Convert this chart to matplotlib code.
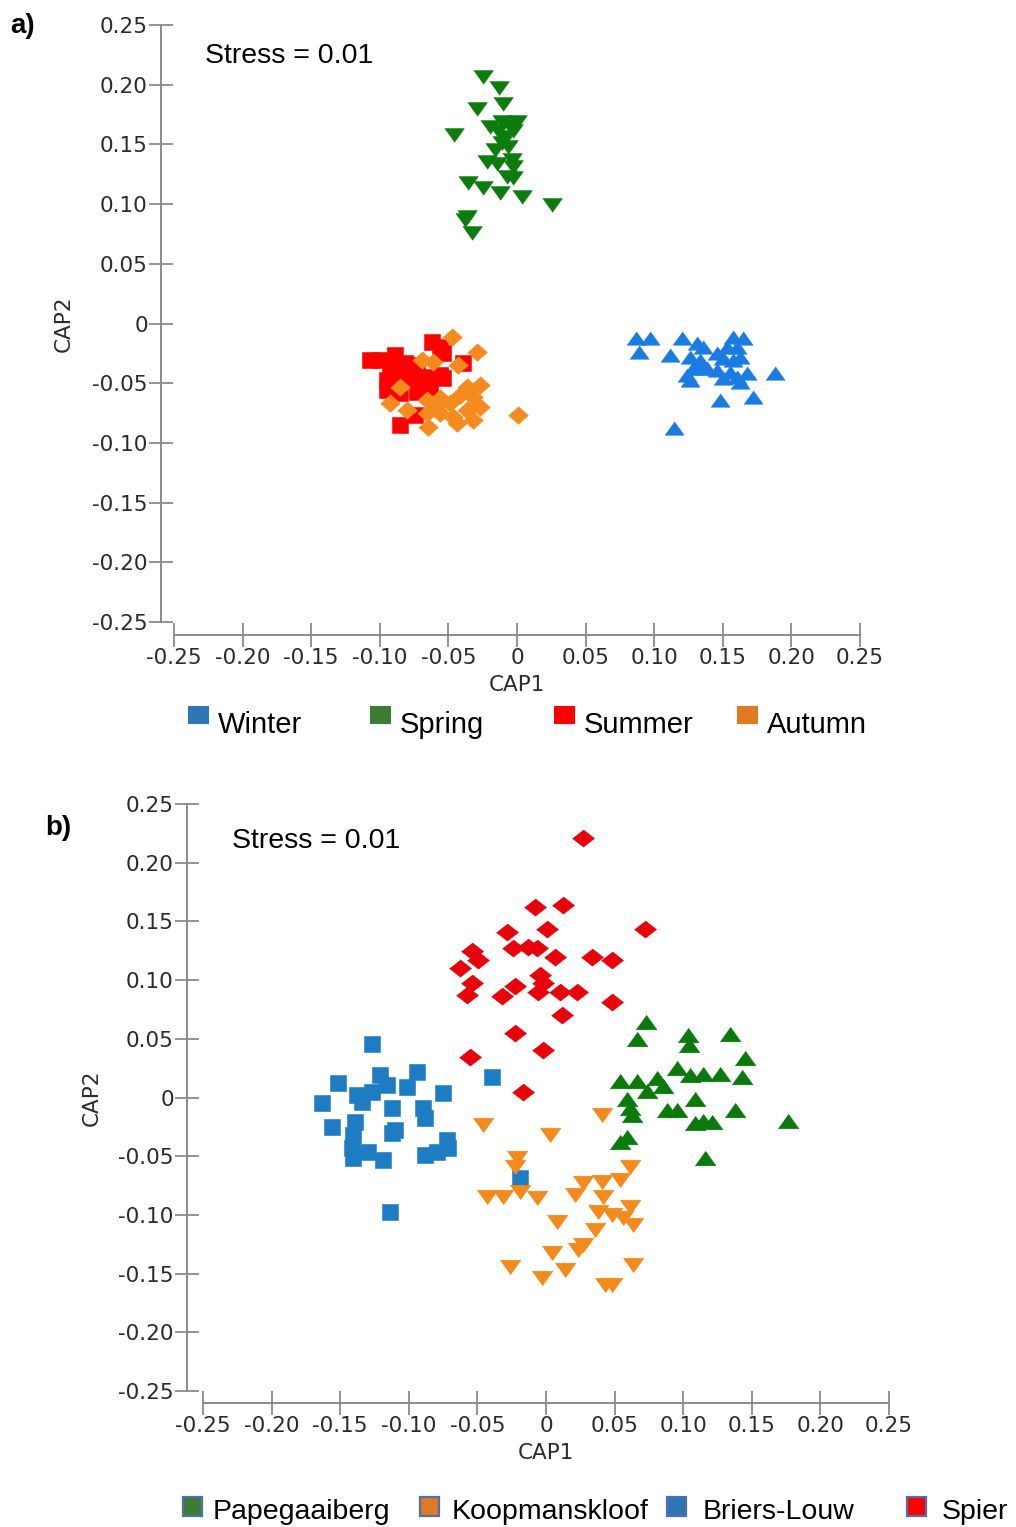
import matplotlib
matplotlib.use("Agg")
import matplotlib.pyplot as plt
from matplotlib.patches import Rectangle
from matplotlib.ticker import FixedLocator, FixedFormatter

plt.rcParams["axes.unicode_minus"] = False

# ---------------- data: panel a (seasons) ----------------
season_names = ["Winter", "Spring", "Summer", "Autumn"]

winter_x = [0.0868, 0.0970, 0.0892, 0.1201, 0.1115, 0.1310, 0.1358, 0.1261, 0.1334,
            0.1577, 0.1650, 0.1529, 0.1602, 0.1456, 0.1504, 0.1577, 0.1626, 0.1383,
            0.1456, 0.1285, 0.1334, 0.1237, 0.1261, 0.1504, 0.1602, 0.1675, 0.1553,
            0.1626, 0.1881, 0.1480, 0.1723, 0.1145]
winter_y = [-0.0124, -0.0124, -0.0236, -0.0124, -0.0264, -0.0166, -0.0194, -0.0278, -0.0306,
            -0.0111, -0.0124, -0.0194, -0.0194, -0.0250, -0.0291, -0.0306, -0.0278, -0.0375,
            -0.0389, -0.0375, -0.0375, -0.0431, -0.0473, -0.0459, -0.0446, -0.0417, -0.0404,
            -0.0487, -0.0417, -0.0641, -0.0618, -0.0878]

spring_x = [-0.0246, -0.0129, -0.0294, -0.0100, -0.0457, -0.0112, -0.0002, -0.0051, -0.0136,
            -0.0087, -0.0027, -0.0112, -0.0063, -0.0221, -0.0148, -0.0039, -0.0027, -0.0027,
            -0.0075, -0.0355, -0.0246, -0.0124, 0.0034, 0.0253, -0.0367, -0.0330, -0.0379,
            -0.0160, -0.0197]
spring_y = [0.2067, 0.1970, 0.1800, 0.1840, 0.1580, 0.1690, 0.1690, 0.1650, 0.1610,
            0.1560, 0.1610, 0.1510, 0.1480, 0.1355, 0.1340, 0.1370, 0.1310, 0.1216,
            0.1230, 0.1174, 0.1132, 0.1090, 0.1060, 0.0992, 0.0894, 0.0755, 0.0867,
            0.1450, 0.1645]

summer_x = [-0.1072, -0.0991, -0.0622, -0.0561, -0.0537, -0.0926, -0.0816, -0.0731, -0.0950,
            -0.0865, -0.0768, -0.0658, -0.0561, -0.0391, -0.0950, -0.0853, -0.0731, -0.0634,
            -0.0744, -0.0853, -0.0537, -0.0889]
summer_y = [-0.0306, -0.0306, -0.0152, -0.0194, -0.0250, -0.0362, -0.0333, -0.0348, -0.0473,
            -0.0459, -0.0446, -0.0446, -0.0431, -0.0333, -0.0557, -0.0585, -0.0571, -0.0543,
            -0.0766, -0.0850, -0.0459, -0.0264]

autumn_x = [-0.0476, -0.0294, -0.0695, -0.0610, -0.0428, -0.0853, -0.0926, -0.0804, -0.0658,
            -0.0561, -0.0488, -0.0367, -0.0270, -0.0416, -0.0319, -0.0658, -0.0561, -0.0464,
            -0.0367, -0.0270, -0.0319, -0.0647, 0.0009, -0.0440, -0.0590]
autumn_y = [-0.0111, -0.0236, -0.0306, -0.0320, -0.0348, -0.0529, -0.0668, -0.0724, -0.0641,
            -0.0626, -0.0668, -0.0529, -0.0515, -0.0599, -0.0613, -0.0752, -0.0752, -0.0781,
            -0.0724, -0.0697, -0.0808, -0.0864, -0.0766, -0.0836, -0.0683]

# ---------------- data: panel b (sites) ----------------
site_names = ["Papegaaiberg", "Koopmanskloof", "Briers-Louw", "Spier"]

papeg_x = [0.0729, 0.0661, 0.1037, 0.1045, 0.1341, 0.1451, 0.0957, 0.1050, 0.1142, 0.1268,
           0.1427, 0.0539, 0.0661, 0.0807, 0.0855, 0.0734, 0.0588, 0.0612, 0.0625, 0.1086,
           0.0884, 0.0953, 0.1378, 0.1086, 0.1147, 0.1208, 0.1766, 0.0539, 0.0588, 0.1159]
papeg_y = [0.0646, 0.0496, 0.0533, 0.0447, 0.0541, 0.0334, 0.0249, 0.0192, 0.0200, 0.0200,
           0.0177, 0.0143, 0.0143, 0.0164, 0.0098, 0.0058, -0.0015, -0.0092, -0.0149, -0.0015,
           -0.0107, -0.0107, -0.0107, -0.0215, -0.0198, -0.0206, -0.0198, -0.0377, -0.0339, -0.0518]

koop_x = [-0.0457, 0.0029, 0.0406, -0.0214, -0.0226, -0.0432, -0.0311, -0.0190, -0.0068, 0.0211,
          0.0272, 0.0406, 0.0539, 0.0612, 0.0418, 0.0381, 0.0479, 0.0564, 0.0612, 0.0636,
          0.0078, 0.0357, 0.0272, 0.0235, 0.0042, 0.0139, -0.0262, -0.0031, 0.0479, 0.0636, 0.0430]
koop_y = [-0.0234, -0.0320, -0.0149, -0.0518, -0.0590, -0.0845, -0.0845, -0.0803, -0.0859, -0.0831,
          -0.0731, -0.0717, -0.0703, -0.0590, -0.0845, -0.0973, -0.1001, -0.1029, -0.0930, -0.1086,
          -0.1058, -0.1129, -0.1257, -0.1299, -0.1327, -0.1470, -0.1442, -0.1540, -0.1597, -0.1427, -0.1597]

briers_x = [-0.1271, -0.0396, -0.1514, -0.1210, -0.1161, -0.1271, -0.1380, -0.1344, -0.0943, -0.1016,
            -0.0749, -0.1635, -0.1125, -0.0894, -0.0882, -0.1562, -0.1392, -0.1405, -0.1101, -0.1125,
            -0.1416, -0.1405, -0.1295, -0.1186, -0.0882, -0.0797, -0.0724, -0.0712, -0.0190, -0.1137]
briers_y = [0.0456, 0.0177, 0.0121, 0.0192, 0.0107, 0.0049, 0.0021, -0.0036, 0.0220, 0.0092,
            0.0041, -0.0049, -0.0092, -0.0092, -0.0177, -0.0249, -0.0206, -0.0320, -0.0277, -0.0305,
            -0.0433, -0.0518, -0.0462, -0.0533, -0.0490, -0.0462, -0.0362, -0.0433, -0.0688, -0.0973]

spier_x = [0.0272, -0.0080, 0.0126, 0.0722, -0.0287, 0.0005, -0.0542, -0.0494, -0.0627, -0.0238,
           -0.0129, -0.0068, 0.0066, 0.0333, 0.0479, -0.0044, -0.0020, -0.0542, -0.0578, -0.0226,
           -0.0323, -0.0056, 0.0102, 0.0224, 0.0479, 0.0114, -0.0226, -0.0020, -0.0554, -0.0165]
spier_y = [0.2208, 0.1626, 0.1640, 0.1433, 0.1413, 0.1433, 0.1251, 0.1172, 0.1101, 0.1271,
           0.1285, 0.1271, 0.1200, 0.1200, 0.1172, 0.1044, 0.0973, 0.0973, 0.0873, 0.0950,
           0.0865, 0.0901, 0.0901, 0.0901, 0.0816, 0.0703, 0.0547, 0.0405, 0.0348, 0.0049]

# ---------------- axis ticks ----------------
tick_values = [-0.25, -0.20, -0.15, -0.10, -0.05, 0.0, 0.05, 0.10, 0.15, 0.20, 0.25]
tick_labels = ["-0.25", "-0.20", "-0.15", "-0.10", "-0.05", "0",
               "0.05", "0.10", "0.15", "0.20", "0.25"]

# ---------------- styling ----------------
W, H = 1016, 1527
TEXT_FONT = ["Liberation Sans", "DejaVu Sans"]
TICK_FONT = ["DejaVu Sans"]
SPINE_COLOR = "#8a8a8a"
TICK_TEXT = "#2b2b2b"

tri_up = [(-1, -0.7), (1, -0.7), (0, 0.7)]
tri_down = [(-1, 0.7), (1, 0.7), (0, -0.7)]
diamond_a = [(0, 0.9), (1, 0), (0, -0.9), (-1, 0)]
diamond_b = [(0, 0.78), (1, 0), (0, -0.78), (-1, 0)]

fig = plt.figure(figsize=(W / 100, H / 100), dpi=100)


def px_rect(x0, y0, x1, y1):
    return [x0 / W, 1 - y1 / H, (x1 - x0) / W, (y1 - y0) / H]


def style_axes(ax, left_off_pt, bottom_off_pt, ylabel_pad):
    ax.set_xlim(-0.25, 0.25)
    ax.set_ylim(-0.25, 0.25)
    ax.patch.set_visible(False)
    for side in ("top", "right"):
        ax.spines[side].set_visible(False)
    ax.spines["left"].set_position(("outward", left_off_pt))
    ax.spines["bottom"].set_position(("outward", bottom_off_pt))
    for side in ("left", "bottom"):
        ax.spines[side].set_bounds(-0.25, 0.25)
        ax.spines[side].set_color(SPINE_COLOR)
        ax.spines[side].set_linewidth(1.4)
    for axis in (ax.xaxis, ax.yaxis):
        axis.set_major_locator(FixedLocator(tick_values))
        axis.set_major_formatter(FixedFormatter(tick_labels))
    ax.tick_params(direction="inout", length=17, width=1.3, color=SPINE_COLOR,
                   labelcolor=TICK_TEXT, labelsize=15.5, pad=1)
    for lab in ax.get_xticklabels() + ax.get_yticklabels():
        lab.set_family(TICK_FONT)
    ax.set_xlabel("CAP1", fontsize=15.5, color=TICK_TEXT, family=TICK_FONT, labelpad=5)
    ax.set_ylabel("CAP2", fontsize=15.5, color=TICK_TEXT, family=TICK_FONT,
                  labelpad=ylabel_pad)


def scatter(ax, x, y, marker, color, s):
    ax.scatter(x, y, marker=marker, s=s, c=color, edgecolors=color,
               linewidths=0.4, zorder=3, clip_on=False)


# ---------------- panel a ----------------
ax_a = fig.add_axes(px_rect(174, 25, 860, 622))
style_axes(ax_a, 9.4, 9.4, 13)
scatter(ax_a, spring_x, spring_y, tri_down, "#0c7c0c", 200)
scatter(ax_a, winter_x, winter_y, tri_up, "#1a7be2", 190)
scatter(ax_a, summer_x, summer_y, "s", "#fe0000", 145)
scatter(ax_a, autumn_x, autumn_y, diamond_a, "#f58a1f", 200)

# ---------------- panel b ----------------
ax_b = fig.add_axes(px_rect(203, 804, 889, 1391))
style_axes(ax_b, 11.5, 8.6, 11.5)
scatter(ax_b, spier_x, spier_y, diamond_b, "#e8000b", 250)
scatter(ax_b, briers_x, briers_y, "s", "#1d7cc2", 140)
scatter(ax_b, papeg_x, papeg_y, tri_up, "#0b790b", 225)
scatter(ax_b, koop_x, koop_y, tri_down, "#f38b1c", 225)

# ---------------- annotations ----------------
fig.text(10 / W, 1 - 33 / H, "a)", fontsize=20, fontweight="bold", family=TEXT_FONT)
fig.text(45 / W, 1 - 835 / H, "b)", fontsize=20, fontweight="bold", family=TEXT_FONT)
fig.text(205 / W, 1 - 63 / H, "Stress = 0.01", fontsize=20.5, family=TEXT_FONT)
fig.text(232 / W, 1 - 848 / H, "Stress = 0.01", fontsize=20.5, family=TEXT_FONT)

# ---------------- legends ----------------
legend_a_colors = ["#2e75b6", "#3b7d34", "#ff0000", "#e07a22"]
legend_a_box_x = [188, 370, 554, 737]
for name, col, bx in zip(season_names, legend_a_colors, legend_a_box_x):
    fig.patches.append(Rectangle((bx / W, 1 - 723 / H), 20 / W, 17 / H,
                                 transform=fig.transFigure, facecolor=col,
                                 edgecolor=col, linewidth=0.8))
    fig.text((bx + 30) / W, 1 - 733 / H, name, fontsize=21, family=TEXT_FONT)

legend_b_colors = ["#3b7d34", "#e07a22", "#2e75b6", "#ff0000"]
legend_b_box_x = [183, 420, 667, 907]
legend_b_text_x = [213, 452, 703, 942]
for name, col, bx, tx in zip(site_names, legend_b_colors, legend_b_box_x, legend_b_text_x):
    fig.patches.append(Rectangle((bx / W, 1 - 1516 / H), 19 / W, 19 / H,
                                 transform=fig.transFigure, facecolor=col,
                                 edgecolor="#4f70a8", linewidth=1.6))
    fig.text(tx / W, 1 - 1519 / H, name, fontsize=20.5, family=TEXT_FONT)

fig.savefig("out.png", dpi=100, facecolor="white")
